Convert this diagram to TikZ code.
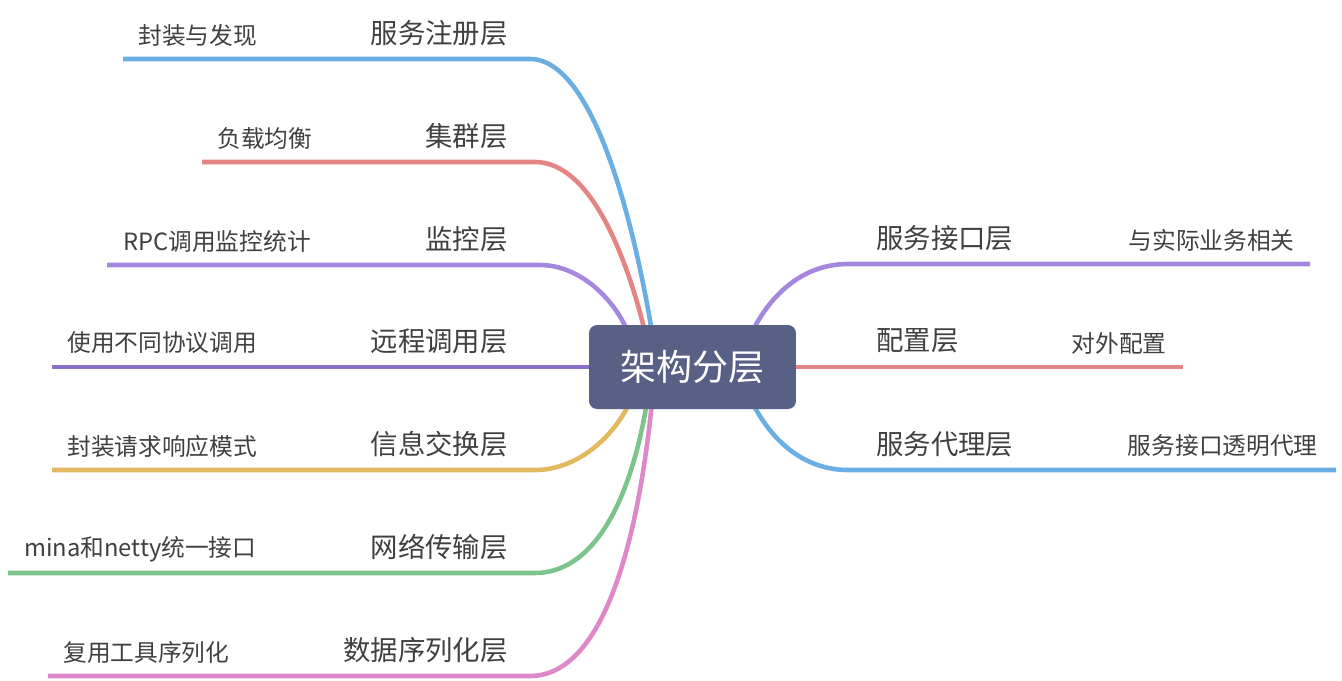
\documentclass[tikz,border=0pt]{standalone}
\usepackage{fontspec}
\setmainfont{Noto Sans CJK SC}
\usetikzlibrary{backgrounds}
\definecolor{rootfill}{HTML}{596085}
\definecolor{inktext}{HTML}{404040}
\definecolor{brblue}{HTML}{6AAFE3}
\definecolor{brred}{HTML}{E38585}
\definecolor{brpurple}{HTML}{A488E0}
\definecolor{brviolet}{HTML}{8A70C8}
\definecolor{bryellow}{HTML}{E2B95E}
\definecolor{brgreen}{HTML}{7CC48C}
\definecolor{brpink}{HTML}{DF88C9}

\begin{document}
\begin{tikzpicture}[x=0.02cm, y=-0.02cm,
    root/.style={fill=rootfill, rounded corners=0.16cm, minimum width=4.14cm,
                 minimum height=1.68cm, text=white,
                 font=\fontsize{20.5}{24}\selectfont},
    layer/.style={text=inktext, inner sep=0pt, font=\fontsize{15.6}{18}\selectfont},
    leaf/.style={text=inktext, inner sep=0pt, font=\fontsize{13.5}{16}\selectfont},
    branch/.style={line width=2.6pt}]
  \useasboundingbox (0,0) rectangle (1342,680);
  \node[root] (root) at (692.5,367) {架构分层};

  % left side
  \node[layer, anchor=east] (l1) at (508,33) {服务注册层};
  \node[leaf, anchor=west] (f1) at (138,35) {封装与发现};
  \node[layer, anchor=east] (l2) at (508,136) {集群层};
  \node[leaf, anchor=west] (f2) at (217,138) {负载均衡};
  \node[layer, anchor=east] (l3) at (508,239) {监控层};
  \node[leaf, anchor=west] (f3) at (123,241) {RPC调用监控统计};
  \node[layer, anchor=east] (l4) at (508,341) {远程调用层};
  \node[leaf, anchor=west] (f4) at (67,343) {使用不同协议调用};
  \node[layer, anchor=east] (l5) at (508,444) {信息交换层};
  \node[leaf, anchor=west] (f5) at (67,446) {封装请求响应模式};
  \node[layer, anchor=east] (l6) at (508,547) {网络传输层};
  \node[leaf, anchor=west] (f6) at (24,549) {mina和netty统一接口};
  \node[layer, anchor=east] (l7) at (508,650) {数据序列化层};
  \node[leaf, anchor=west] (f7) at (63,652) {复用工具序列化};

  % right side
  \node[layer, anchor=west] (r1) at (876,238) {服务接口层};
  \node[leaf, anchor=east] (g1) at (1295,240) {与实际业务相关};
  \node[layer, anchor=west] (r2) at (876,341) {配置层};
  \node[leaf, anchor=east] (g2) at (1167,343) {对外配置};
  \node[layer, anchor=west] (r3) at (876,444) {服务代理层};
  \node[leaf, anchor=east] (g3) at (1318,446) {服务接口透明代理};

  \coordinate (s1) at (652,332); \coordinate (k1) at (530,59);
  \coordinate (j1) at (353,59);  \coordinate (e1) at (123,59);
  \coordinate (s2) at (645,332); \coordinate (k2) at (535,162);
  \coordinate (j2) at (410,162); \coordinate (e2) at (202,162);
  \coordinate (s3) at (628,332); \coordinate (k3) at (540,265);
  \coordinate (j3) at (410,265); \coordinate (e3) at (107,265);
  \coordinate (j4) at (353,367); \coordinate (e4) at (52,367);
  \coordinate (s5) at (630,402); \coordinate (k5) at (535,470);
  \coordinate (j5) at (353,470); \coordinate (e5) at (52,470);
  \coordinate (s6) at (647,402); \coordinate (k6) at (535,573);
  \coordinate (j6) at (353,573); \coordinate (e6) at (8,573);
  \coordinate (s7) at (652,402); \coordinate (k7) at (530,676);
  \coordinate (j7) at (325,676); \coordinate (e7) at (48,676);
  \coordinate (t1) at (752,332); \coordinate (m1) at (848,264);
  \coordinate (q1) at (1035,264); \coordinate (h1) at (1310,264);
  \coordinate (q2) at (980,367); \coordinate (h2) at (1183,367);
  \coordinate (t3) at (752,402); \coordinate (m3) at (848,470);
  \coordinate (q3) at (1035,470); \coordinate (h3) at (1336,470);

  \begin{scope}[on background layer]
    \draw[branch, brblue] (s1) .. controls (635,230) and (595,59) .. (k1) -- (j1) -- (e1);
    \draw[branch, brred] (s2) .. controls (628,262) and (592,162) .. (k2) -- (j2) -- (e2);
    \draw[branch, brpurple] (s3) .. controls (612,295) and (577,265) .. (k3) -- (j3) -- (e3);
    \draw[branch, brviolet] (root) -- (j4) -- (e4);
    \draw[branch, bryellow] (s5) .. controls (612,440) and (575,470) .. (k5) -- (j5) -- (e5);
    \draw[branch, brgreen] (s6) .. controls (630,505) and (592,573) .. (k6) -- (j6) -- (e6);
    \draw[branch, brpink] (s7) .. controls (635,570) and (595,676) .. (k7) -- (j7) -- (e7);
    \draw[branch, brpurple] (t1) .. controls (772,292) and (805,264) .. (m1) -- (q1) -- (h1);
    \draw[branch, brred] (root) -- (q2) -- (h2);
    \draw[branch, brblue] (t3) .. controls (772,442) and (805,470) .. (m3) -- (q3) -- (h3);
  \end{scope}
\end{tikzpicture}
\end{document}
